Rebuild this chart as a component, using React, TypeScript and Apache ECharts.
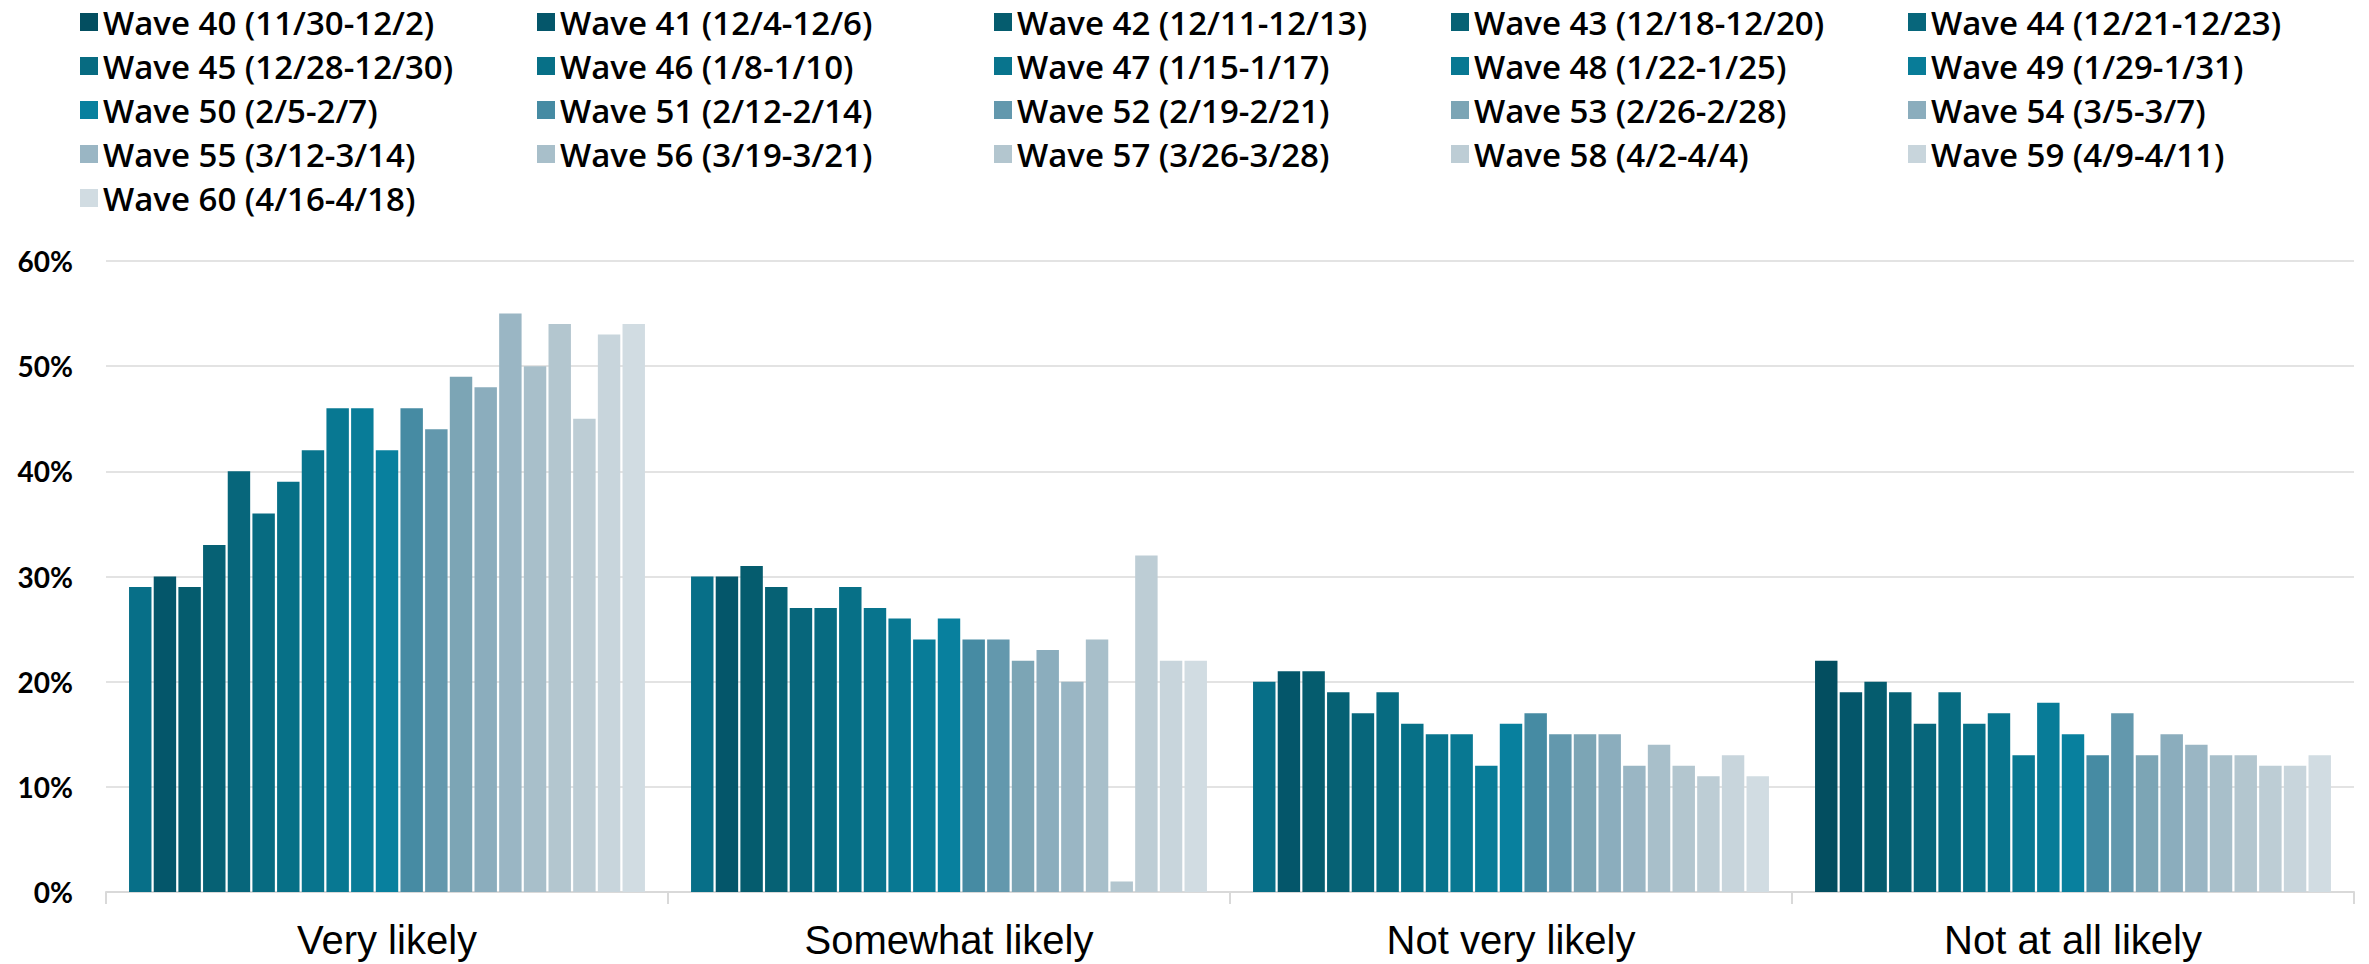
import React, { useEffect, useRef } from "react";
import * as echarts from "echarts";

const categories = ["Very likely", "Somewhat likely", "Not very likely", "Not at all likely"];

const waveNames = [
  "Wave 40 (11/30-12/2)",
  "Wave 41 (12/4-12/6)",
  "Wave 42 (12/11-12/13)",
  "Wave 43 (12/18-12/20)",
  "Wave 44 (12/21-12/23)",
  "Wave 45 (12/28-12/30)",
  "Wave 46 (1/8-1/10)",
  "Wave 47 (1/15-1/17)",
  "Wave 48 (1/22-1/25)",
  "Wave 49 (1/29-1/31)",
  "Wave 50 (2/5-2/7)",
  "Wave 51 (2/12-2/14)",
  "Wave 52 (2/19-2/21)",
  "Wave 53 (2/26-2/28)",
  "Wave 54 (3/5-3/7)",
  "Wave 55 (3/12-3/14)",
  "Wave 56 (3/19-3/21)",
  "Wave 57 (3/26-3/28)",
  "Wave 58 (4/2-4/4)",
  "Wave 59 (4/9-4/11)",
  "Wave 60 (4/16-4/18)",
];

// values per category, in wave order (Wave 40 .. Wave 60), percent
const veryLikely = [29, 30, 29, 33, 40, 36, 39, 42, 46, 46, 42, 46, 44, 49, 48, 55, 50, 54, 45, 53, 54];
const somewhatLikely = [30, 30, 31, 29, 27, 27, 29, 27, 26, 24, 26, 24, 24, 22, 23, 20, 24, 1, 32, 22, 22];
const notVeryLikely = [20, 21, 21, 19, 17, 19, 16, 15, 15, 12, 16, 17, 15, 15, 15, 12, 14, 12, 11, 13, 11];
const notAtAllLikely = [22, 19, 20, 19, 16, 19, 16, 17, 13, 18, 15, 13, 17, 13, 15, 14, 13, 13, 12, 12, 13];

const yTicks = [0, 10, 20, 30, 40, 50, 60];

const waveColors = [
  "#034e60", "#04566a", "#055c6e", "#066174", "#07667b", "#076b81", "#077087",
  "#08748d", "#087892", "#087c98", "#08809e", "#468ba3", "#6398ad", "#7ca5b5",
  "#8badbd", "#9ab6c4", "#a8bfca", "#b3c6cf", "#bdcdd5", "#c8d5dc", "#d1dce2",
];
// in the reference, Wave 40's bar is drawn teal in the first three groups
const wave40OverrideColor = "#076f88";

export default function App() {
  const ref = useRef<HTMLDivElement>(null);

  useEffect(() => {
    if (!ref.current) return;
    const chart = echarts.init(ref.current, null, { renderer: "svg" });
    const groups = [veryLikely, somewhatLikely, notVeryLikely, notAtAllLikely];

    const series = waveNames.map((name, i) => ({
      name,
      type: "bar",
      barGap: "10%",
      barCategoryGap: "8.2%",
      itemStyle: { color: waveColors[i] },
      data: groups.map((g, c) =>
        i === 0 && c < 3
          ? { value: g[i], itemStyle: { color: wave40OverrideColor } }
          : g[i]
      ),
    }));

    chart.setOption({
      animation: false,
      backgroundColor: "#ffffff",
      legend: {
        left: 75,
        top: 0,
        width: 2290,
        itemWidth: 18,
        itemHeight: 18,
        itemGap: 10,
        icon: "rect",
        textStyle: {
          fontFamily: "Open Sans",
          fontWeight: 600,
          fontSize: 33,
          color: "#000",
          width: 424,
          lineHeight: 34,
        },
        data: waveNames,
      },
      grid: { left: 106, right: 15, top: 261, bottom: 72, containLabel: false },
      xAxis: {
        type: "category",
        data: categories,
        axisLine: { lineStyle: { color: "#d9d9d9", width: 2 } },
        axisTick: { show: true, length: 12, lineStyle: { color: "#d9d9d9", width: 2 } },
        axisLabel: {
          fontFamily: "Liberation Sans",
          fontSize: 40,
          color: "#000",
          margin: 28,
        },
      },
      yAxis: {
        type: "value",
        min: yTicks[0],
        max: yTicks[yTicks.length - 1],
        interval: 10,
        axisLine: { show: false },
        axisTick: { show: false },
        splitLine: { lineStyle: { color: "#e3e3e3", width: 2 } },
        axisLabel: {
          formatter: "{value}%",
          fontFamily: "Lato",
          fontWeight: "bold",
          fontSize: 28,
          color: "#000",
          margin: 33,
        },
      },
      series,
    });
    return () => chart.dispose();
  }, []);

  return (
    <div
      ref={ref}
      style={{ position: "absolute", left: 0, top: 0, width: 2369, height: 964 }}
    />
  );
}
